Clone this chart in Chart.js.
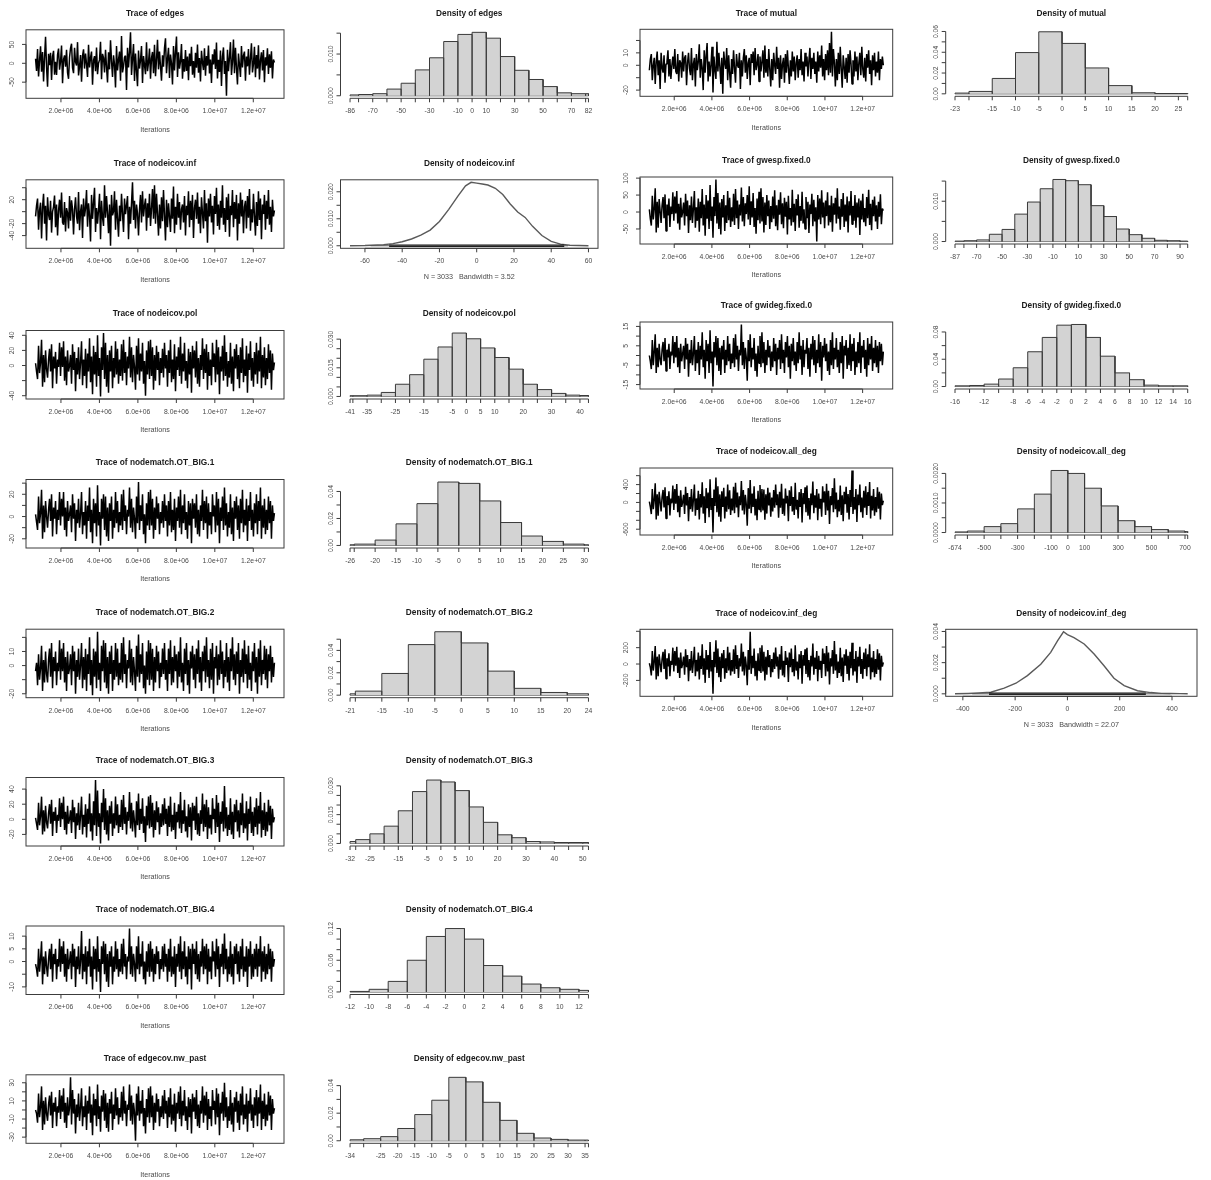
<!DOCTYPE html>
<html>
<head>
<meta charset="utf-8">
<title>MCMC diagnostics</title>
<script src="https://cdn.jsdelivr.net/npm/chart.js@4.4.1/dist/chart.umd.min.js"></script>
<style>
  html, body { margin: 0; padding: 0; background: #ffffff; }
  #board { position: relative; width: 1211px; height: 1180px; overflow: hidden; background: #ffffff; }
  #board canvas { position: absolute; }
</style>
</head>
<body>
<div id="board"></div>
<script>
// ---------- iteration axis shared by every trace ----------
const iterStart = 680000;
const iterEnd = 13100000;
const iterTicks = [2e6, 4e6, 6e6, 8e6, 1e7, 1.2e7];
const iterTickLabels = ['2.0e+06', '4.0e+06', '6.0e+06', '8.0e+06', '1.0e+07', '1.2e+07'];

// ---------- sampled chains (thinned) ----------
const edgesTrace = [
  12,-20,38,-35,8,45,-22,30,-48,15, 70,-10,-62,25,-5,28,-44,18,33,-30, 4,-31,22,39,-17,5,47,-53,10,21,
  -9,36,-25,-41,16,40,52,-12,-26,41, 3,-6,56,-32,-8,22,-49,20,37,-14, 26,-2,-36,49,-11,15,31,-57,8,19,
  -21,42,-29,0,9,57,-42,25,14,-24, 36,-10,-51,29,-16,61,5,-36,21,-3, -64,46,-19,10,31,-46,72,-24,-8,16,
  20,-71,41,-11,30,82,-31,12,51,-47, 26,-20,-61,34,-14,8,46,-52,19,-5, -29,56,-21,2,39,-41,14,30,-26,49,
  -34,10,62,-16,31,-7,-46,21,-9,40, 66,-26,12,41,-39,23,0,-56,46,-19, 30,71,-36,29,-14,5,51,-41,11,-22,
  35,-20,18,-45,26,-8,44,-30,6,-38, 28,-12,50,-25,14,-48,33,2,-18,40, -33,19,-6,47,-27,10,-52,24,-3,37,
  -15,55,-40,9,-23,34,-60,18,42,-28, 6,-86,36,-21,15,56,-31,4,63,-26, 41,-12,-56,26,-4,-36,46,-11,20,31,
  -46,18,-8,38,-30,12,53,-24,-2,44, -37,22,-14,48,-43,7,29,-19,35,-50, 16,-6,40,-28,24,-12,32,-40,10,2];
const mutualTrace = [
  -4,5,9,-12,0,6,-15,3,11,-8, 4,-19,10,-2,-6,8,-14,1,3,12, -9,5,-11,0,7,-3,13,-5,-7,9,
  -13,4,2,-10,11,-5,6,8,-16,2, 10,-3,-8,14,-12,1,6,-17,9,-4, 3,17,-10,5,-2,-20,12,-6,8,18,
  -13,3,-9,1,15,-22,7,-4,-11,19, -5,10,-1,-15,6,-23,11,2,-3,14, -12,8,-6,-18,5,-7,12,-2,-14,9,
  0,-2,10,-19,4,-9,6,13,-6,8, -11,2,6,-16,9,2,11,-8,14,-4, 1,9,-13,7,-5,3,12,-10,16,-6,
  5,-9,13,-3,-17,5,-12,10,0,-7, 15,-3,6,-18,8,-11,1,6,-14,9, -6,12,-2,-15,4,-9,11,-5,7,-12,
  2,8,-10,5,-4,13,-8,3,-13,10, -1,7,-9,4,14,-11,6,-3,10,-7, 3,-14,11,-5,8,-2,16,-9,5,-12,
  9,-4,12,-8,18,-6,27,-9,13,2, -17,5,-12,10,-7,15,-3,-18,8,-1, -11,6,-14,9,-6,12,1,-15,4,-9,
  11,-5,7,-12,2,10,-8,15,-3,-10, 6,-13,9,-2,12,-7,4,-16,8,-4, 10,-9,3,-6,11,-12,5,-3,7,0];
const infTrace = [
  -8,10,22,-30,2,15,-45,8,30,-20, 10,-48,24,-5,-14,18,-35,0,8,27, -26,12,-40,2,20,-10,32,-18,-22,16,
  -33,6,-2,-28,26,-15,19,4,-38,4, 24,-8,-20,33,-31,0,12,-44,22,-8, 6,36,-25,14,-6,-50,28,-12,15,40,
  -34,6,-20,3,30,-46,18,-10,-24,44, -10,26,-2,-36,12,-57,28,-6,0,34, -30,20,-12,-42,10,-16,30,-4,-34,22,
  -4,10,26,-46,8,-20,14,49,-14,18, -28,12,-3,-40,4,28,-18,34,-8,10, 22,-32,14,-10,30,-24,5,38,-12,44,
  -20,30,-4,-40,12,-28,24,-16,36,-6, -48,20,-26,14,-8,-34,22,-12,42,-36, 8,-22,30,-10,16,-30,4,12,-18,26,
  -40,10,-6,34,-26,18,-14,28,-44,6, 20,-12,32,-20,8,-36,24,-2,-28,36, -16,14,-52,22,-8,30,-18,10,-38,26,
  -4,40,-24,12,-30,18,-10,44,-22,6, -34,24,-14,30,-42,10,-6,36,-26,16, -12,28,-48,14,-20,32,-8,20,-36,8,
  18,-28,26,-10,38,-32,4,-18,30,-6, -40,16,-24,34,-14,22,-46,12,-4,28, -30,18,-12,36,-22,8,-34,20,-8,2];
const gwespTrace = [
  8,-20,-40,48,-22,10,70,-60,30,-46, 38,2,-32,20,44,-18,52,-56,22,-10, 40,-44,16,-6,58,-26,46,-4,62,-34,
  24,-52,42,-16,0,28,-40,54,-12,34, -62,20,-24,46,-32,10,62,-46,14,-26, 40,-58,30,-18,68,-40,22,-70,50,-20,
  34,-50,80,-26,16,-76,44,-12,96,-34, 56,-50,28,-66,38,-16,50,-56,20,-32, 62,-24,42,-44,14,-28,54,-38,68,-18,
  34,-50,22,-10,72,-28,44,-42,26,-6, 50,-22,76,-38,32,-16,56,-44,12,-64, 40,-24,60,-34,70,-28,44,-60,28,-38,
  50,-12,34,-50,18,-30,46,-20,64,-42, 20,-54,36,-8,58,-36,26,-48,42,-14, 30,-66,48,-22,12,-40,66,-30,24,-56,
  38,-10,52,-46,18,-26,60,-34,8,-50, 44,-18,30,-62,22,-6,54,-42,36,-28, 14,-87,50,-22,40,-36,64,-16,28,-48,
  34,-12,58,-40,20,-30,48,-58,26,-8, 42,-34,70,-20,16,-52,38,-14,56,-44, 22,-28,46,-60,32,-10,62,-36,18,-26,
  50,-46,28,-16,40,-68,34,-22,54,-30, 12,-42,44,-18,66,-38,24,-54,36,-12, 46,-28,20,-50,30,-14,52,-36,10,4];
const polTrace = [
  3,-8,-18,26,-10,4,34,-28,14,-22, 20,-5,-16,8,22,-8,28,-30,12,-4, 18,-24,8,-2,30,-14,24,-2,32,-20,
  12,-26,20,-8,0,14,-24,28,-6,18, -34,10,-12,24,-18,4,32,-26,8,-14, 22,-30,16,-8,36,-22,12,-38,26,-12,
  18,-28,40,-14,10,-41,24,-6,43,-18, 30,-28,14,-36,20,-8,26,-30,10,-16, 32,-12,22,-24,8,-14,28,-20,34,-10,
  18,-26,12,-4,38,-16,24,-22,14,-2, -32,26,-12,36,-20,16,-8,30,-24,6, -40,20,-12,32,-18,34,-14,24,-32,14,
  -20,26,-6,18,-26,10,-10,22,-16,30, -4,14,-28,20,-10,34,-22,8,-18,28, -34,12,-6,24,-14,38,-24,16,-8,30,
  -20,6,-30,22,-12,18,-36,26,-4,20, -16,32,-24,10,-28,14,-6,36,-18,22, -10,28,-32,18,-14,8,-26,30,-2,16,
  -22,34,-12,24,-38,12,-8,26,-20,40, -14,18,-28,6,-16,30,-24,12,-34,22, -4,28,-18,14,-30,24,-10,36,-22,8,
  -14,26,-36,16,-6,32,-20,10,-28,18, -12,30,-24,20,-8,38,-30,14,-16,24, -26,10,-18,28,-10,20,-32,16,-6,4];
const gwidegTrace = [
  0,-3,-7,8,-5,2,11,-9,4,-6, 6,-2,-5,3,7,-3,9,-8,3,-1, 6,-7,2,0,10,-4,7,-1,10,-6,
  4,-9,6,-3,1,5,-7,9,-2,6, -11,3,-4,8,-5,1,10,-8,3,-4, 7,-10,5,-2,12,-6,3,-12,8,-3,
  6,-9,13,-4,2,-16,7,-1,10,-5, 9,-8,4,-10,5,-2,8,-9,3,-5, 10,-3,6,-7,1,-4,9,-6,11,-2,
  5,-8,3,0,16,-5,7,-7,4,-1, -13,8,-3,11,-6,4,-2,9,-8,1, -11,5,-4,10,-6,12,-4,7,-9,3,
  -5,8,-1,5,-8,2,-6,9,-3,6, -10,4,-2,8,-7,11,-4,3,-9,7, -1,10,-6,5,-12,6,-3,9,-5,2,
  -8,7,-4,12,-2,5,-10,8,-6,3, 1,9,-7,4,-11,6,-2,10,-5,8, -9,3,-4,11,-6,7,-13,5,-1,9,
  -3,6,-8,2,-10,8,-5,12,-7,4, -2,9,-6,3,-9,7,-4,10,-12,5, 0,8,-7,4,-5,11,-8,6,-3,9,
  -10,2,-6,7,-4,12,-9,5,-1,8, -7,3,-11,9,-5,6,-2,10,-8,4, -4,8,-6,5,-9,7,-3,6,-5,2];
const big1Trace = [
  2,-5,-12,18,-6,3,24,-20,10,-14, 14,0,-10,6,16,-4,20,-18,8,-2, 14,-16,6,-3,22,-8,16,0,22,-12,
  8,-18,14,-4,2,10,-14,20,-2,12, -22,6,-6,16,-10,2,22,-16,4,-8, 14,-20,10,-4,26,-14,6,-24,16,-6,
  12,-18,28,-8,4,-26,16,-2,20,-12, 18,-18,8,-22,12,-4,18,-20,6,-10, 22,-6,14,-14,4,-8,20,-12,24,-4,
  10,-16,6,0,26,-10,16,-14,8,-2, -20,18,-6,31,-12,10,-4,20,-16,2, -24,12,-8,22,-12,24,-8,16,-20,8,
  -12,18,-2,12,-16,4,-6,14,-10,20, -4,10,-18,14,-8,22,-14,6,-12,16, -22,8,-4,18,-10,24,-16,10,-6,20,
  -12,4,-20,14,-8,12,-24,16,-2,12, -10,20,-16,6,-18,10,-4,24,-12,14, -6,18,-20,12,-8,4,-16,20,0,10,
  -14,22,-8,16,-24,8,-4,18,-12,26, -8,12,-18,4,-10,20,-16,8,-22,14, -2,18,-12,10,-20,16,-6,24,-14,6,
  -8,16,-22,10,-4,22,-12,6,-18,12, -6,20,-16,14,-4,26,-20,10,-10,16, -16,6,-12,18,-6,14,-20,10,-4,3];
const allDegTrace = [
  20,-100,-260,300,-150,60,430,-380,180,-300, 240,10,-200,120,280,-110,340,-360,140,-60, 250,-290,90,-20,380,-170,300,-30,410,-220,
  150,-330,270,-100,0,170,-260,350,-70,210, -420,120,-150,300,-210,60,400,-300,90,-170, 260,-380,190,-110,450,-250,140,-460,320,-130,
  220,-330,520,-170,100,-674,290,-80,560,-220, 360,-320,180,-430,250,-100,330,-360,130,-210, 400,-150,270,-280,90,-180,350,-240,440,-110,
  220,-330,140,-60,480,-180,280,-270,170,-40, -520,320,-140,500,-240,200,-100,360,-290,80, -400,260,-160,390,-220,300,-180,290,-390,180,
  -250,330,-70,220,-320,110,-200,280,-120,400, -60,180,-340,240,-120,420,-260,90,-300,310, -20,150,-420,270,-80,360,-200,120,-280,440,
  -160,60,-360,230,-100,300,-450,210,-40,340, -220,380,-300,100,-380,200,-60,470,-240,160, -120,300,-400,200,-140,80,-320,360,0,250,
  -280,420,-180,260,-480,140,-60,320,-220,540, -150,220,-330,60,-200,380,-280,160,-420,240, -40,350,-230,190,-380,280,-100,716,-260,120,
  -160,300,-440,180,-60,400,-220,110,-340,260, -120,360,-280,230,-80,460,-360,150,-180,300, -300,120,-220,340,-140,240,-380,200,-60,40];
const big2Trace = [
  -4,2,-14,8,-10,-2,14,-18,4,-12, 10,-6,-12,4,12,-8,16,-16,6,-4, 10,-14,2,-4,18,-10,12,-4,16,-12,
  6,-18,10,-6,-2,8,-14,14,-4,10, -20,4,-8,12,-10,0,16,-16,6,-10, 12,-18,8,-6,20,-14,4,-21,12,-8,
  10,-16,24,-10,2,-18,14,-4,18,-12, 16,-16,6,-20,10,-6,14,-18,4,-10, 16,-8,12,-14,2,-10,16,-12,20,-6,
  8,-16,4,-2,18,-12,12,-14,6,-4, -18,14,-8,22,-12,8,-6,16,-16,0, -20,10,-10,18,-14,16,-10,12,-18,6,
  -12,14,-4,10,-16,2,-8,12,-6,16, -10,4,-18,12,-6,18,-14,6,-12,14, -4,8,-16,10,-8,20,-12,2,-18,12,
  -6,16,-14,4,-20,10,-2,14,-10,8, -16,12,-6,18,-12,6,-18,10,-4,14, -12,20,-8,4,-16,12,-10,16,-20,6,
  -2,14,-14,8,-10,18,-6,10,-16,4, -8,16,-12,6,-18,12,-4,20,-10,8, -14,10,-6,16,-20,4,-8,12,-12,18,
  -6,8,-16,14,-10,2,-18,10,-4,16, -12,6,-20,12,-8,18,-14,4,-6,14, -10,12,-16,8,-4,14,-12,6,-8,2];
const infDegTrace = [
  10,-40,-140,160,-80,30,220,-190,90,-150, 120,0,-100,60,150,-60,180,-180,70,-30, 130,-150,40,-10,200,-90,160,-20,210,-110,
  80,-170,140,-50,0,90,-130,180,-40,110, -210,60,-80,160,-110,30,210,-150,50,-90, 140,-190,100,-60,240,-130,70,-230,170,-70,
  110,-170,270,-90,50,-364,150,-40,290,-110, 190,-160,90,-220,130,-50,170,-180,70,-110, 210,-80,140,-140,50,-90,180,-120,230,-60,
  110,-170,70,-30,250,-90,150,-140,90,-20, -260,170,-70,394,-120,100,-50,190,-150,40, -200,130,-80,200,-110,230,-90,150,-200,90,
  -130,170,-40,110,-160,60,-100,140,-60,200, -30,90,-180,120,-70,220,-140,40,-160,160, -10,80,-220,140,-40,190,-100,60,-150,230,
  -80,30,-190,120,-50,160,-240,110,-20,180, -120,200,-160,50,-200,100,-30,250,-130,80, -60,160,-210,100,-70,40,-170,190,0,130,
  -150,220,-90,140,-250,70,-30,170,-120,280, -80,120,-170,30,-110,200,-150,80,-220,120, -20,180,-120,100,-200,150,-50,260,-140,60,
  -90,160,-230,90,-30,210,-120,60,-180,140, -60,190,-150,120,-40,240,-190,80,-100,160, -160,60,-120,180,-70,130,-200,100,-30,20];
const big3Trace = [
  2,-6,-14,22,-8,4,30,-20,12,-16, 18,-4,-12,8,20,-6,26,-22,10,-2, 16,-18,6,-2,28,-10,22,0,30,-14,
  10,-20,18,-6,0,12,-18,26,-4,16, -26,8,-8,22,-14,4,30,-20,6,-10, 20,-24,14,-6,34,-16,8,-28,24,-8,
  52,-22,38,-10,8,-32,22,-4,40,-14, 28,-20,12,-28,18,-6,24,-22,8,-12, 30,-8,20,-18,6,-10,26,-14,32,-6,
  16,-20,10,-2,36,-12,22,-16,12,-4, -24,24,-8,34,-14,14,-6,28,-18,4, -30,18,-8,30,-12,32,-10,22,-24,12,
  -14,24,-4,16,-20,8,-10,20,-8,28, -6,14,-22,18,-10,30,-16,6,-14,22, -26,10,-4,20,-12,36,-18,12,-6,26,
  -16,4,-24,20,-10,16,-28,22,-2,18, -14,30,-20,8,-22,12,-6,34,-16,20, -10,26,-26,16,-12,6,-20,28,0,14,
  -18,32,-10,22,-30,10,-6,24,-16,44, -12,16,-22,6,-14,28,-20,10,-26,20, -4,26,-16,12,-24,22,-8,34,-18,8,
  -12,24,-28,14,-6,30,-18,10,-22,16, -10,28,-20,18,-6,36,-24,12,-14,22, -22,10,-16,26,-8,18,-26,14,-4,3];
const big4Trace = [
  -1,-3,-6,5,-4,1,8,-9,2,-5, 4,-2,-6,1,5,-3,7,-8,3,-1, 5,-7,1,-2,9,-4,6,-1,8,-6,
  3,-8,5,-3,0,4,-7,7,-2,5, -10,2,-3,6,-5,0,12,-7,3,-4, 6,-9,4,-2,9,-6,2,-11,6,-3,
  5,-8,10,-4,1,-12,6,-1,8,-5, 7,-8,3,-10,4,-2,6,-9,2,-4, 8,-3,5,-6,1,-4,7,-5,9,-2,
  3,-7,2,0,13,-5,6,-6,3,-1, -8,6,-3,10,-5,3,-2,8,-7,0, -9,4,-4,7,-6,8,-4,5,-8,3,
  -5,6,-1,4,-7,1,-3,6,-4,7, -2,3,-8,5,-4,9,-6,2,-5,6, -10,3,-2,7,-4,10,-7,4,-3,8,
  -6,2,-9,6,-3,5,-11,7,-1,5, -5,8,-7,3,-8,4,-2,9,-5,6, -3,7,-9,5,-4,2,-7,8,0,4,
  -6,9,-3,6,-10,3,-2,7,-5,11, -3,5,-8,2,-5,8,-6,3,-9,6, -1,7,-5,4,-8,6,-3,9,-6,2,
  -4,6,-10,5,-2,8,-7,3,-6,5, -3,7,-6,5,-2,10,-8,4,-4,6, -7,3,-5,7,-3,5,-8,4,-2,1];
const nwPastTrace = [
  0,-4,-14,18,-8,3,26,-22,10,-16, 14,-4,-12,6,16,-6,20,-20,8,-2, 14,-18,4,-3,22,-10,16,-2,24,-14,
  8,-20,14,-6,2,36,-16,22,-4,12, -26,6,-8,18,-12,2,24,-18,4,-8, 16,-22,10,-4,26,-14,6,-28,18,-6,
  12,-18,28,-10,4,-24,16,-2,22,-12, 18,-20,8,-24,12,-4,20,-22,6,-10, 24,-6,14,-16,2,-8,20,-12,26,-4,
  10,-18,6,0,28,-12,16,-16,8,-3, -34,18,-6,26,-12,10,-4,22,-18,2, -26,12,-8,24,-14,26,-8,16,-22,8,
  -14,18,-2,12,-18,4,-8,16,-10,22, -4,10,-20,14,-8,24,-16,6,-12,18, -24,8,-4,20,-10,26,-18,10,-6,22,
  -12,4,-22,14,-8,12,-26,18,-2,14, -10,22,-18,6,-20,10,-4,26,-14,16, -6,20,-22,12,-10,4,-18,22,0,10,
  -16,24,-8,18,-28,8,-4,20,-12,30, -8,14,-20,4,-12,22,-16,8,-24,14, -2,20,-14,10,-22,18,-6,26,-16,6,
  -10,18,-24,10,-4,24,-12,6,-20,14, -6,22,-18,14,-4,28,-22,10,-10,18, -18,6,-12,20,-6,16,-22,12,-4,2];

// trace y-axis ticks and their printed labels ('' = tick without label)
const edgesTraceYTicks = [-50, 0, 50];          const edgesTraceYLabels = ['-50', '0', '50'];
const mutualTraceYTicks = [-20, -10, 0, 10, 20]; const mutualTraceYLabels = ['-20', '', '0', '10', ''];
const infTraceYTicks = [-40, -20, 0, 20, 40];    const infTraceYLabels = ['-40', '-20', '', '20', ''];
const gwespTraceYTicks = [-50, 0, 50, 100];      const gwespTraceYLabels = ['-50', '0', '50', '100'];
const polTraceYTicks = [-40, -20, 0, 20, 40];    const polTraceYLabels = ['-40', '', '0', '20', '40'];
const gwidegTraceYTicks = [-15, -10, -5, 0, 5, 10, 15]; const gwidegTraceYLabels = ['-15', '', '-5', '', '5', '', '15'];
const big1TraceYTicks = [-20, -10, 0, 10, 20, 30]; const big1TraceYLabels = ['-20', '', '0', '', '20', ''];
const allDegTraceYTicks = [-600, -400, -200, 0, 200, 400, 600]; const allDegTraceYLabels = ['-600', '', '', '0', '', '400', ''];
const big2TraceYTicks = [-20, -10, 0, 10, 20];   const big2TraceYLabels = ['-20', '', '0', '10', ''];
const infDegTraceYTicks = [-200, 0, 200, 400];   const infDegTraceYLabels = ['-200', '0', '200', ''];
const big3TraceYTicks = [-20, 0, 20, 40];        const big3TraceYLabels = ['-20', '0', '20', '40'];
const big4TraceYTicks = [-10, -5, 0, 5, 10];     const big4TraceYLabels = ['-10', '', '0', '5', '10'];
const nwPastTraceYTicks = [-30, -20, -10, 0, 10, 20, 30]; const nwPastTraceYLabels = ['-30', '', '-10', '', '10', '', '30'];

// ---------- histograms: bin breaks, densities, labelled breaks ----------
const edgesBreaks = [-86,-80,-70,-60,-50,-40,-30,-20,-10,0,10,20,30,40,50,60,70,80,82];
const edgesDensity = [0.0002,0.0003,0.0005,0.0016,0.0030,0.0062,0.0091,0.0130,0.0147,0.0152,0.0138,0.0094,0.0061,0.0039,0.0022,0.0007,0.0005,0.0005];
const edgesXLabelled = [-86,-70,-50,-30,-10,0,10,30,50,70,82];
const edgesYTicks = [0,0.005,0.010,0.015]; const edgesYLabels = ['0.000','','0.010',''];

const mutualBreaks = [-23,-20,-15,-10,-5,0,5,10,15,20,25,27];
const mutualDensity = [0.0007,0.0023,0.0148,0.0397,0.0597,0.0485,0.0249,0.0079,0.0010,0.0003,0.0003];
const mutualXLabelled = [-23,-15,-10,-5,0,5,10,15,20,25];
const mutualYTicks = [0,0.01,0.02,0.03,0.04,0.05,0.06]; const mutualYLabels = ['0.00','','0.02','','0.04','','0.06'];

const polBreaks = [-41,-40,-35,-30,-25,-20,-15,-10,-5,0,5,10,15,20,25,30,35,40,43];
const polDensity = [0.0004,0.0004,0.0007,0.0021,0.0064,0.0114,0.0195,0.0259,0.0332,0.0302,0.0254,0.0204,0.0143,0.0064,0.0036,0.0016,0.0007,0.0005];
const polXLabelled = [-41,-35,-25,-15,-5,0,5,10,20,30,40];
const polYTicks = [0,0.005,0.010,0.015,0.020,0.025,0.030]; const polYLabels = ['0.000','','','0.015','','','0.030'];

const gwespBreaks = [-87,-80,-70,-60,-50,-40,-30,-20,-10,0,10,20,30,40,50,60,70,80,90,96];
const gwespDensity = [0.0001,0.0002,0.0004,0.0018,0.0030,0.0068,0.0098,0.0131,0.0154,0.0151,0.0141,0.0089,0.0062,0.0031,0.0017,0.0008,0.0003,0.0002,0.0001];
const gwespXLabelled = [-87,-70,-50,-30,-10,10,30,50,70,90];
const gwespYTicks = [0,0.005,0.010,0.015]; const gwespYLabels = ['0.000','','0.010',''];

const gwidegBreaks = [-16,-14,-12,-10,-8,-6,-4,-2,0,2,4,6,8,10,12,14,16];
const gwidegDensity = [0.0010,0.0015,0.0035,0.0110,0.0275,0.0510,0.0720,0.0900,0.0910,0.0720,0.0445,0.0200,0.0100,0.0020,0.0010,0.0010];
const gwidegXLabelled = [-16,-12,-8,-6,-4,-2,0,2,4,6,8,10,12,14,16];
const gwidegYTicks = [0,0.02,0.04,0.06,0.08]; const gwidegYLabels = ['0.00','','0.04','','0.08'];

const big1Breaks = [-26,-25,-20,-15,-10,-5,0,5,10,15,20,25,30,31];
const big1Density = [0.0005,0.0010,0.0040,0.0160,0.0310,0.0470,0.0460,0.0330,0.0170,0.0070,0.0030,0.0010,0.0005];
const big1XLabelled = [-26,-20,-15,-10,-5,0,5,10,15,20,25,30];
const big1YTicks = [0,0.01,0.02,0.03,0.04]; const big1YLabels = ['0.00','','0.02','','0.04'];

const allDegBreaks = [-674,-600,-500,-400,-300,-200,-100,0,100,200,300,400,500,600,700,716];
const allDegDensity = [0.00002,0.00005,0.0002,0.0003,0.0008,0.0013,0.0021,0.0020,0.0015,0.0009,0.0004,0.0002,0.0001,0.00005,0.00003];
const allDegXLabelled = [-674,-500,-300,-100,0,100,300,500,700];
const allDegYTicks = [0,0.0005,0.0010,0.0015,0.0020]; const allDegYLabels = ['0.0000','','0.0010','','0.0020'];

const big2Breaks = [-21,-20,-15,-10,-5,0,5,10,15,20,24];
const big2Density = [0.0012,0.0036,0.0194,0.0452,0.0567,0.0467,0.0215,0.0061,0.0024,0.0012];
const big2XLabelled = [-21,-15,-10,-5,0,5,10,15,20,24];
const big2YTicks = [0,0.01,0.02,0.03,0.04,0.05]; const big2YLabels = ['0.00','','0.02','','0.04',''];

const big3Breaks = [-32,-30,-25,-20,-15,-10,-5,0,5,10,15,20,25,30,35,40,45,50,52];
const big3Density = [0.0010,0.0020,0.0050,0.0090,0.0170,0.0270,0.0330,0.0320,0.0275,0.0190,0.0110,0.0045,0.0030,0.0010,0.0008,0.0005,0.0005,0.0005];
const big3XLabelled = [-32,-25,-15,-5,0,5,10,20,30,40,50];
const big3YTicks = [0,0.005,0.010,0.015,0.020,0.025,0.030]; const big3YLabels = ['0.000','','','0.015','','','0.030'];

const big4Breaks = [-12,-10,-8,-6,-4,-2,0,2,4,6,8,10,12,13];
const big4Density = [0.0010,0.0050,0.0200,0.0600,0.1050,0.1200,0.1000,0.0500,0.0300,0.0150,0.0080,0.0050,0.0030];
const big4XLabelled = [-12,-10,-8,-6,-4,-2,0,2,4,6,8,10,12];
const big4YTicks = [0,0.02,0.04,0.06,0.08,0.10,0.12]; const big4YLabels = ['0.00','','','0.06','','','0.12'];

const nwPastBreaks = [-34,-30,-25,-20,-15,-10,-5,0,5,10,15,20,25,30,35,36];
const nwPastDensity = [0.0007,0.0015,0.0030,0.0089,0.0190,0.0294,0.0460,0.0427,0.0279,0.0148,0.0054,0.0020,0.0010,0.0005,0.0005];
const nwPastXLabelled = [-34,-25,-20,-15,-10,-5,0,5,10,15,20,25,30,35];
const nwPastYTicks = [0,0.01,0.02,0.03,0.04]; const nwPastYLabels = ['0.00','','0.02','','0.04'];

// ---------- kernel density estimates ----------
const infKdeX = [-68,-60,-50,-45,-40,-35,-30,-25,-20,-15,-10,-6,-3,0,3,6,10,14,18,22,26,30,35,40,45,50,55,60];
const infKdeY = [0,0.0001,0.0004,0.0008,0.0015,0.0025,0.0039,0.0058,0.0090,0.0135,0.0185,0.0222,0.0235,0.0232,0.0229,0.0225,0.0213,0.0190,0.0155,0.0125,0.0105,0.0072,0.0038,0.0016,0.0006,0.0002,0.0001,0];
const infObsRange = [-57, 49];
const infObsCore = [-47, 47];
const infKdeXTicks = [-60,-40,-20,0,20,40,60];
const infKdeYTicks = [0,0.005,0.010,0.015,0.020]; const infKdeYLabels = ['0.000','','0.010','','0.020'];
const infKdeNote = 'N = 3033   Bandwidth = 3.52';

const infDegKdeX = [-430,-380,-340,-293,-242,-197,-153,-102,-64,-38,-15,0,25,64,102,140,178,217,268,318,360,395,430,460];
const infDegKdeY = [0,0.00002,0.00005,0.0001,0.00036,0.00068,0.00117,0.0019,0.00266,0.0034,0.00398,0.0038,0.0036,0.0032,0.00255,0.0018,0.0010,0.00053,0.0002,0.00008,0.00003,0.00002,0.00001,0];
const infDegObsRange = [-364, 394];
const infDegObsCore = [-300, 300];
const infDegKdeXTicks = [-400,-200,0,200,400];
const infDegKdeYTicks = [0,0.001,0.002,0.003,0.004]; const infDegKdeYLabels = ['0.000','','0.002','','0.004'];
const infDegKdeNote = 'N = 3033   Bandwidth = 22.07';

// ---------- page layout ----------
const LEFT_TITLE_Y = [13.3, 163.3, 314, 463, 612.7, 761, 909.5, 1058.3];
const RIGHT_TITLE_Y = [13.3, 161, 306, 452, 613.3];
const COL_X = [[26, 284], [340.5, 598], [640, 892.7], [945.7, 1197]];

const FONT = '"Liberation Sans", Arial, Helvetica, sans-serif';
const INK = '#1a1a1a', AXIS = '#3c3c3c', LABEL = '#4a4a4a';

const panels = [
  { kind: 'trace', col: 0, row: 0, title: 'Trace of edges', values: edgesTrace, yTicks: edgesTraceYTicks, yLabels: edgesTraceYLabels },
  { kind: 'hist',  col: 1, row: 0, title: 'Density of edges', breaks: edgesBreaks, density: edgesDensity, xLabelled: edgesXLabelled, yTicks: edgesYTicks, yLabels: edgesYLabels },
  { kind: 'trace', col: 2, row: 0, title: 'Trace of mutual', values: mutualTrace, yTicks: mutualTraceYTicks, yLabels: mutualTraceYLabels },
  { kind: 'hist',  col: 3, row: 0, title: 'Density of mutual', breaks: mutualBreaks, density: mutualDensity, xLabelled: mutualXLabelled, yTicks: mutualYTicks, yLabels: mutualYLabels },

  { kind: 'trace', col: 0, row: 1, title: 'Trace of nodeicov.inf', values: infTrace, yTicks: infTraceYTicks, yLabels: infTraceYLabels },
  { kind: 'kde',   col: 1, row: 1, title: 'Density of nodeicov.inf', kx: infKdeX, ky: infKdeY, obsRange: infObsRange, obsCore: infObsCore, xTicks: infKdeXTicks, yTicks: infKdeYTicks, yLabels: infKdeYLabels, note: infKdeNote },
  { kind: 'trace', col: 2, row: 1, title: 'Trace of gwesp.fixed.0', values: gwespTrace, yTicks: gwespTraceYTicks, yLabels: gwespTraceYLabels },
  { kind: 'hist',  col: 3, row: 1, title: 'Density of gwesp.fixed.0', breaks: gwespBreaks, density: gwespDensity, xLabelled: gwespXLabelled, yTicks: gwespYTicks, yLabels: gwespYLabels },

  { kind: 'trace', col: 0, row: 2, title: 'Trace of nodeicov.pol', values: polTrace, yTicks: polTraceYTicks, yLabels: polTraceYLabels },
  { kind: 'hist',  col: 1, row: 2, title: 'Density of nodeicov.pol', breaks: polBreaks, density: polDensity, xLabelled: polXLabelled, yTicks: polYTicks, yLabels: polYLabels },
  { kind: 'trace', col: 2, row: 2, title: 'Trace of gwideg.fixed.0', values: gwidegTrace, yTicks: gwidegTraceYTicks, yLabels: gwidegTraceYLabels },
  { kind: 'hist',  col: 3, row: 2, title: 'Density of gwideg.fixed.0', breaks: gwidegBreaks, density: gwidegDensity, xLabelled: gwidegXLabelled, yTicks: gwidegYTicks, yLabels: gwidegYLabels },

  { kind: 'trace', col: 0, row: 3, title: 'Trace of nodematch.OT_BIG.1', values: big1Trace, yTicks: big1TraceYTicks, yLabels: big1TraceYLabels },
  { kind: 'hist',  col: 1, row: 3, title: 'Density of nodematch.OT_BIG.1', breaks: big1Breaks, density: big1Density, xLabelled: big1XLabelled, yTicks: big1YTicks, yLabels: big1YLabels },
  { kind: 'trace', col: 2, row: 3, title: 'Trace of nodeicov.all_deg', values: allDegTrace, yTicks: allDegTraceYTicks, yLabels: allDegTraceYLabels },
  { kind: 'hist',  col: 3, row: 3, title: 'Density of nodeicov.all_deg', breaks: allDegBreaks, density: allDegDensity, xLabelled: allDegXLabelled, yTicks: allDegYTicks, yLabels: allDegYLabels },

  { kind: 'trace', col: 0, row: 4, title: 'Trace of nodematch.OT_BIG.2', values: big2Trace, yTicks: big2TraceYTicks, yLabels: big2TraceYLabels },
  { kind: 'hist',  col: 1, row: 4, title: 'Density of nodematch.OT_BIG.2', breaks: big2Breaks, density: big2Density, xLabelled: big2XLabelled, yTicks: big2YTicks, yLabels: big2YLabels },
  { kind: 'trace', col: 2, row: 4, title: 'Trace of nodeicov.inf_deg', values: infDegTrace, yTicks: infDegTraceYTicks, yLabels: infDegTraceYLabels },
  { kind: 'kde',   col: 3, row: 4, title: 'Density of nodeicov.inf_deg', kx: infDegKdeX, ky: infDegKdeY, obsRange: infDegObsRange, obsCore: infDegObsCore, xTicks: infDegKdeXTicks, yTicks: infDegKdeYTicks, yLabels: infDegKdeYLabels, note: infDegKdeNote },

  { kind: 'trace', col: 0, row: 5, title: 'Trace of nodematch.OT_BIG.3', values: big3Trace, yTicks: big3TraceYTicks, yLabels: big3TraceYLabels },
  { kind: 'hist',  col: 1, row: 5, title: 'Density of nodematch.OT_BIG.3', breaks: big3Breaks, density: big3Density, xLabelled: big3XLabelled, yTicks: big3YTicks, yLabels: big3YLabels },

  { kind: 'trace', col: 0, row: 6, title: 'Trace of nodematch.OT_BIG.4', values: big4Trace, yTicks: big4TraceYTicks, yLabels: big4TraceYLabels },
  { kind: 'hist',  col: 1, row: 6, title: 'Density of nodematch.OT_BIG.4', breaks: big4Breaks, density: big4Density, xLabelled: big4XLabelled, yTicks: big4YTicks, yLabels: big4YLabels },

  { kind: 'trace', col: 0, row: 7, title: 'Trace of edgecov.nw_past', values: nwPastTrace, yTicks: nwPastTraceYTicks, yLabels: nwPastTraceYLabels },
  { kind: 'hist',  col: 1, row: 7, title: 'Density of edgecov.nw_past', breaks: nwPastBreaks, density: nwPastDensity, xLabelled: nwPastXLabelled, yTicks: nwPastYTicks, yLabels: nwPastYLabels }
];

// R-style 4% axis padding
function padded(lo, hi) { const r = hi - lo; return [lo - 0.04 * r, hi + 0.04 * r]; }

function frameOf(p) {
  const leftHalf = p.col < 2;
  const T = (leftHalf ? LEFT_TITLE_Y : RIGHT_TITLE_Y)[p.row];
  const top = T + (leftHalf ? 16.5 : 16);
  const bottom = T + (leftHalf ? 85 : 83);
  const [x0, x1] = COL_X[p.col];
  const cl = Math.floor(x0) - 40, ct = Math.floor(T) - 12;
  const cw = Math.ceil(x1) + 14 - cl, ch = 140;
  return { cl, ct, cw, ch, pad: { left: x0 - cl, right: cl + cw - x1, top: top - ct, bottom: ct + ch - bottom }, titleGap: top - T };
}

// draws title, box, axes and labels the way R base graphics does
function rDecor(p, fr) {
  return {
    id: 'rDecor',
    afterDraw(chart) {
      const ctx = chart.ctx, a = chart.chartArea, xs = chart.scales.x, ys = chart.scales.y;
      ctx.save();
      ctx.fillStyle = INK;
      ctx.font = 'bold 8.3px ' + FONT;
      ctx.textAlign = 'center';
      ctx.textBaseline = 'middle';
      ctx.fillText(p.title, (a.left + a.right) / 2, a.top - fr.titleGap);

      ctx.strokeStyle = AXIS;
      ctx.lineWidth = 1;
      if (p.kind !== 'hist') ctx.strokeRect(a.left, a.top, a.right - a.left, a.bottom - a.top);

      // x axis
      let xt, xl;
      if (p.kind === 'trace') { xt = iterTicks; xl = iterTickLabels; }
      else if (p.kind === 'kde') { xt = p.xTicks; xl = p.xTicks.map(String); }
      else { xt = p.breaks; xl = p.breaks.map(b => p.xLabelled.includes(b) ? String(b) : ''); }
      const tl = 4;
      ctx.beginPath();
      ctx.moveTo(xs.getPixelForValue(xt[0]), a.bottom);
      ctx.lineTo(xs.getPixelForValue(xt[xt.length - 1]), a.bottom);
      xt.forEach(v => { const px = xs.getPixelForValue(v); ctx.moveTo(px, a.bottom); ctx.lineTo(px, a.bottom + tl); });
      // y axis
      const yt = p.yTicks;
      ctx.moveTo(a.left, ys.getPixelForValue(yt[0]));
      ctx.lineTo(a.left, ys.getPixelForValue(yt[yt.length - 1]));
      yt.forEach(v => { const py = ys.getPixelForValue(v); ctx.moveTo(a.left, py); ctx.lineTo(a.left - tl, py); });
      ctx.stroke();

      ctx.fillStyle = LABEL;
      ctx.font = '6.8px ' + FONT;
      xt.forEach((v, i) => { if (xl[i]) ctx.fillText(xl[i], xs.getPixelForValue(v), a.bottom + 13); });
      const yOff = p.kind === 'trace' ? 14 : 9.5;
      yt.forEach((v, i) => {
        if (!p.yLabels[i]) return;
        ctx.save();
        ctx.translate(a.left - yOff, ys.getPixelForValue(v));
        ctx.rotate(-Math.PI / 2);
        ctx.fillText(p.yLabels[i], 0, 0);
        ctx.restore();
      });
      ctx.font = '7.2px ' + FONT;
      if (p.kind === 'trace') ctx.fillText('Iterations', (a.left + a.right) / 2, a.bottom + 31.3);
      if (p.kind === 'kde') ctx.fillText(p.note, (a.left + a.right) / 2, a.bottom + 29);
      ctx.restore();
    }
  };
}

function datasetsOf(p) {
  const base = { showLine: true, pointRadius: 0, pointHoverRadius: 0, tension: 0, fill: false };
  if (p.kind === 'trace') {
    const step = (iterEnd - iterStart) / (p.values.length - 1);
    return [{ ...base, data: p.values.map((v, i) => ({ x: iterStart + i * step, y: v })), borderColor: '#000000', borderWidth: 1.5, borderJoinStyle: 'bevel' }];
  }
  if (p.kind === 'hist') {
    const pts = [];
    p.density.forEach((d, i) => {
      pts.push({ x: p.breaks[i], y: 0 }, { x: p.breaks[i], y: d }, { x: p.breaks[i + 1], y: d }, { x: p.breaks[i + 1], y: 0 });
    });
    const n = p.breaks.length - 1;
    return [
      { ...base, data: pts, fill: 'origin', backgroundColor: '#d3d3d3', borderColor: '#3a3a3a', borderWidth: 1 },
      { ...base, data: [{ x: p.breaks[0], y: 0 }, { x: p.breaks[n], y: 0 }], borderColor: '#3a3a3a', borderWidth: 1 }
    ];
  }
  // kernel density with observation rug along the floor
  return [
    { ...base, data: [{ x: p.obsRange[0], y: 0 }, { x: p.obsRange[1], y: 0 }], borderColor: '#555555', borderWidth: 1 },
    { ...base, data: [{ x: p.obsCore[0], y: 0 }, { x: p.obsCore[1], y: 0 }], borderColor: '#111111', borderWidth: 2.4 },
    { ...base, data: p.kx.map((x, i) => ({ x, y: p.ky[i] })), borderColor: '#5a5a5a', borderWidth: 1.4 }
  ];
}

function rangesOf(p) {
  if (p.kind === 'trace') {
    return { x: padded(iterStart, iterEnd), y: padded(Math.min(...p.values), Math.max(...p.values)) };
  }
  if (p.kind === 'hist') {
    return { x: padded(p.breaks[0], p.breaks[p.breaks.length - 1]), y: padded(0, Math.max(...p.density)) };
  }
  return { x: padded(p.kx[0], p.kx[p.kx.length - 1]), y: padded(0, Math.max(...p.ky)) };
}

const board = document.getElementById('board');
panels.forEach(p => {
  const fr = frameOf(p);
  const cv = document.createElement('canvas');
  cv.width = fr.cw; cv.height = fr.ch;
  cv.style.left = fr.cl + 'px'; cv.style.top = fr.ct + 'px';
  cv.style.width = fr.cw + 'px'; cv.style.height = fr.ch + 'px';
  board.appendChild(cv);
  const r = rangesOf(p);
  new Chart(cv, {
    type: 'scatter',
    data: { datasets: datasetsOf(p) },
    options: {
      responsive: false,
      animation: false,
      devicePixelRatio: 1,
      events: [],
      layout: { padding: fr.pad },
      plugins: { legend: { display: false }, tooltip: { enabled: false }, title: { display: false } },
      scales: {
        x: { type: 'linear', display: false, min: r.x[0], max: r.x[1] },
        y: { type: 'linear', display: false, min: r.y[0], max: r.y[1] }
      }
    },
    plugins: [rDecor(p, fr)]
  });
});
</script>
</body>
</html>
